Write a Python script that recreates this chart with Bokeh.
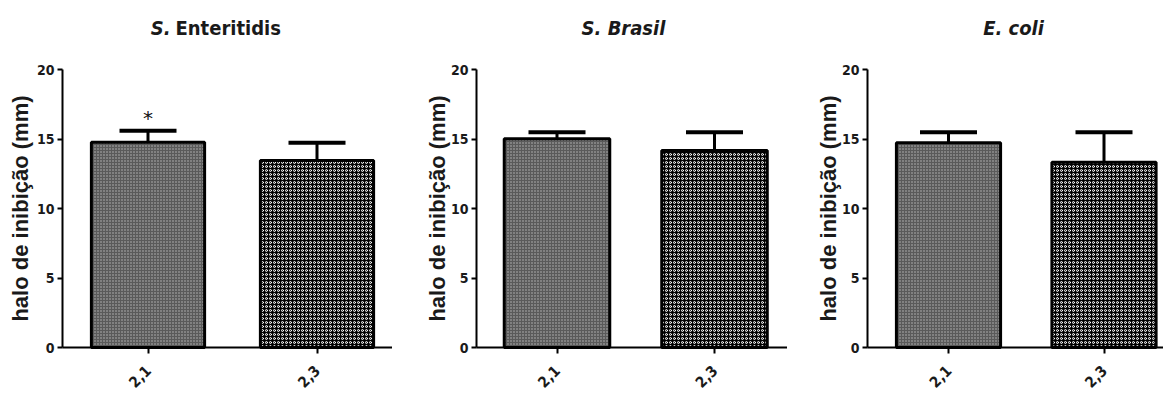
import math
from bokeh.plotting import figure
from bokeh.models import Range1d, Whisker, TeeHead, Label, ColumnDataSource, FixedTicker
from bokeh.layouts import row
from bokeh.embed import file_html
from bokeh.resources import INLINE

# ---------------- data ----------------
categories = ["2,1", "2,3"]
panel_titles = ["S. Enteritidis", "S. Brasil", "E. coli"]
enteritidis_mean = [14.77, 13.45]
enteritidis_err = [0.82, 1.28]
brasil_mean = [15.01, 14.17]
brasil_err = [0.48, 1.32]
coli_mean = [14.73, 13.33]
coli_err = [0.76, 2.16]
y_ticks = [0, 5, 10, 15, 20]
significance = [["*", ""], ["", ""], ["", ""]]
y_axis_label = "halo de inibição (mm)"

means = [enteritidis_mean, brasil_mean, coli_mean]
errs = [enteritidis_err, brasil_err, coli_err]

# ---------------- layout ----------------
NARROW = "'Liberation Sans Narrow', 'Arial Narrow', 'DejaVu Sans Condensed', sans-serif"
SANS = "'Liberation Sans', Arial, sans-serif"
H = 392
ZERO_Y = 347                     # screen y of value 0
Y_MAX = 20
PX_PER_Y = 13.9

# per panel: figure width, screen x of figure, of y axis, of first bar centre, px per category
layout = [
    dict(width=392, page=0, axis=62, c0=147.5, ppu=169.0, label_x=20),
    dict(width=395, page=392, axis=476, c0=556.5, ppu=157.5, label_x=437),
    dict(width=376, page=787, axis=867, c0=948.0, ppu=155.5, label_x=828),
]
title_parts = [
    [("S.", "bold italic", 170, "right"), ("Enteritidis", "bold", 175, "left")],
    [(panel_titles[1], "bold italic", 623, "center")],
    [(panel_titles[2], "bold italic", 1013, "center")],
]
TITLE_Y = 27

bar_styles = [
    dict(fill_color="#5a5a5a", hatch_pattern="dot", hatch_color="white", hatch_scale=3, hatch_alpha=0.6),
    dict(fill_color="black", hatch_pattern="ring", hatch_color="white", hatch_scale=4, hatch_weight=1.0),
]

figs = []
for i in range(3):
    L = layout[i]
    ppu = L["ppu"]

    def dx(px, L=L, ppu=ppu):
        return (px - L["c0"]) / ppu

    def dy(py):
        return (ZERO_Y - py) / PX_PER_Y

    x0 = dx(L["page"])
    x1 = dx(L["page"] + L["width"])
    p = figure(width=L["width"], height=H, output_backend="svg", toolbar_location=None,
               x_range=Range1d(x0, x1), y_range=Range1d(dy(H), dy(0)),
               min_border_left=0, min_border_right=0,
               min_border_top=0, min_border_bottom=0)
    p.outline_line_color = None
    p.grid.visible = False
    p.background_fill_color = "white"

    xs = list(range(len(categories)))
    src = ColumnDataSource(dict(x=xs, top=means[i], upper=[m + e for m, e in zip(means[i], errs[i])]))

    w = Whisker(base="x", lower="top", upper="upper", source=src, dimension="height",
                line_width=3, line_color="black", lower_head=None,
                upper_head=TeeHead(size=57, line_width=4, line_color="black"), level="underlay")
    p.add_layout(w)

    for j in xs:
        sub = ColumnDataSource(dict(x=[xs[j]], top=[means[i][j]]))
        p.vbar(x="x", top="top", bottom=0, width=0.67, source=sub,
               line_color="black", line_width=3, **bar_styles[j])

    for j in xs:
        if significance[i][j]:
            p.add_layout(Label(x=xs[j], y=means[i][j] + errs[i][j], text=significance[i][j],
                               y_offset=1, text_align="center", text_baseline="bottom",
                               text_font="'DejaVu Sans', sans-serif", text_font_size="20px",
                               text_color="#111111"))

    for txt, style, px, align in title_parts[i]:
        p.add_layout(Label(x=dx(px), y=dy(TITLE_Y), text=txt, text_font=NARROW,
                           text_font_size="20px", text_font_style=style, text_align=align,
                           text_baseline="middle", text_color="#1a1a1a"))

    p.add_layout(Label(x=dx(L["label_x"]), y=Y_MAX / 2, text=y_axis_label, angle=math.pi / 2,
                       text_font=SANS, text_font_size="22px", text_font_style="bold",
                       text_align="center", text_baseline="middle", text_color="#1a1a1a"))

    yaxis = p.yaxis[0]
    yaxis.fixed_location = dx(L["axis"])
    yaxis.bounds = (0, Y_MAX)
    yaxis.ticker = FixedTicker(ticks=y_ticks)
    yaxis.axis_line_width = 2
    yaxis.major_tick_line_width = 2
    yaxis.major_tick_out = 5
    yaxis.major_tick_in = 0
    yaxis.minor_tick_line_color = None
    yaxis.major_label_text_font = NARROW
    yaxis.major_label_text_font_size = "14px"
    yaxis.major_label_text_font_style = "bold"
    yaxis.major_label_text_color = "#1a1a1a"
    yaxis.major_label_standoff = 3

    xaxis = p.xaxis[0]
    xaxis.fixed_location = 0
    xaxis.bounds = (dx(L["axis"]), x1)
    xaxis.ticker = FixedTicker(ticks=xs)
    xaxis.major_label_overrides = {x: c for x, c in zip(xs, categories)}
    xaxis.major_label_orientation = math.pi / 4
    xaxis.axis_line_width = 2
    xaxis.major_tick_line_width = 2
    xaxis.major_tick_out = 6
    xaxis.major_tick_in = 0
    xaxis.minor_tick_line_color = None
    xaxis.major_label_text_font = NARROW
    xaxis.major_label_text_font_size = "15px"
    xaxis.major_label_text_font_style = "bold"
    xaxis.major_label_text_color = "#1a1a1a"
    xaxis.major_label_standoff = 14
    figs.append(p)

lay = row(*figs, spacing=0)
open("out.html", "w").write(file_html(lay, INLINE))
